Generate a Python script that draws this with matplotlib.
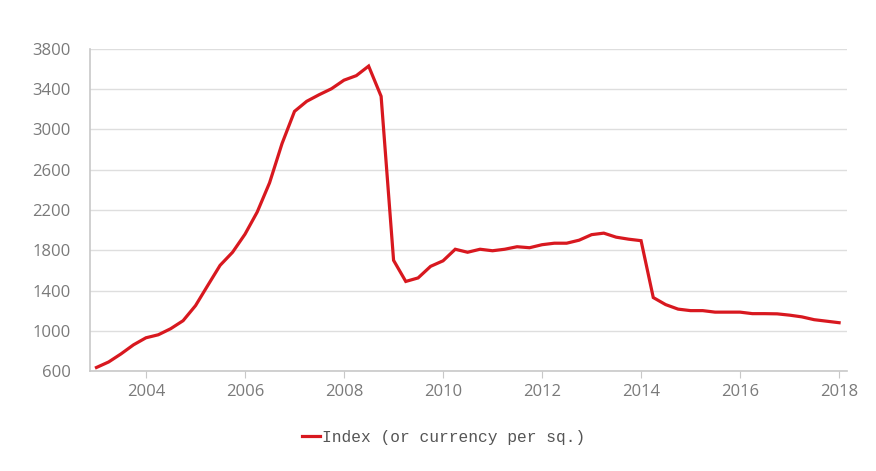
import matplotlib.pyplot as plt
import matplotlib.dates as mdates
import pandas as pd

# quarterly values, 2003 Q1 .. 2018 Q1
values = [635, 690, 770, 860,
          930, 960, 1020, 1100,
          1250, 1450, 1650, 1780,
          1960, 2180, 2470, 2860,
          3180, 3280, 3345, 3405,
          3490, 3535, 3630, 3330,
          1700, 1490, 1525, 1640,
          1695, 1810, 1780, 1810,
          1795, 1810, 1835, 1825,
          1855, 1870, 1870, 1900,
          1955, 1970, 1930, 1910,
          1895, 1330, 1260, 1215,
          1200, 1200, 1185, 1185,
          1185, 1170, 1170, 1168,
          1155, 1138, 1110, 1095,
          1080]
dates = pd.date_range('2003-01-01', periods=len(values), freq='QS')
yticks = [600, 1000, 1400, 1800, 2200, 2600, 3000, 3400, 3800]
xtick_years = [2004, 2006, 2008, 2010, 2012, 2014, 2016, 2018]
series_name = 'Index (or currency per sq.)'

red = '#d8181f'
grey_txt = '#7a7a7a'
grid_c = '#dedede'

fig = plt.figure(figsize=(8.76, 4.71), dpi=100)
ax = fig.add_axes([0.1027, 0.2123, 0.8643, 0.6837])

ax.plot(dates, values, color=red, linewidth=2.3, solid_joinstyle='miter',
        label=series_name)

ax.set_ylim(600, 3800)
ax.set_yticks(yticks)
ax.set_xlim(pd.Timestamp('2002-11-14'), pd.Timestamp('2018-03-01'))
ax.set_xticks([pd.Timestamp(f'{y}-01-01') for y in xtick_years])
ax.xaxis.set_major_formatter(mdates.DateFormatter('%Y'))

ax.grid(axis='y', color=grid_c, linewidth=1)
ax.set_axisbelow(True)
for s in ['top', 'right']:
    ax.spines[s].set_visible(False)
for s in ['left', 'bottom']:
    ax.spines[s].set_color('#c8c8c8')
    ax.spines[s].set_linewidth(1.2)

ax.tick_params(axis='y', length=0, pad=14, labelsize=12, labelcolor=grey_txt)
ax.tick_params(axis='x', length=5, color='#c8c8c8', pad=4, labelsize=12,
               labelcolor=grey_txt)
for lab in ax.get_xticklabels() + ax.get_yticklabels():
    lab.set_fontfamily('Open Sans')

leg = ax.legend(loc='center', bbox_to_anchor=(0.467, -0.205), frameon=False,
                handlelength=1.1, handletextpad=0.1,
                prop={'family': 'Liberation Mono', 'size': 11.7})
for t in leg.get_texts():
    t.set_color('#555555')

fig.savefig('out.png', dpi=100)
